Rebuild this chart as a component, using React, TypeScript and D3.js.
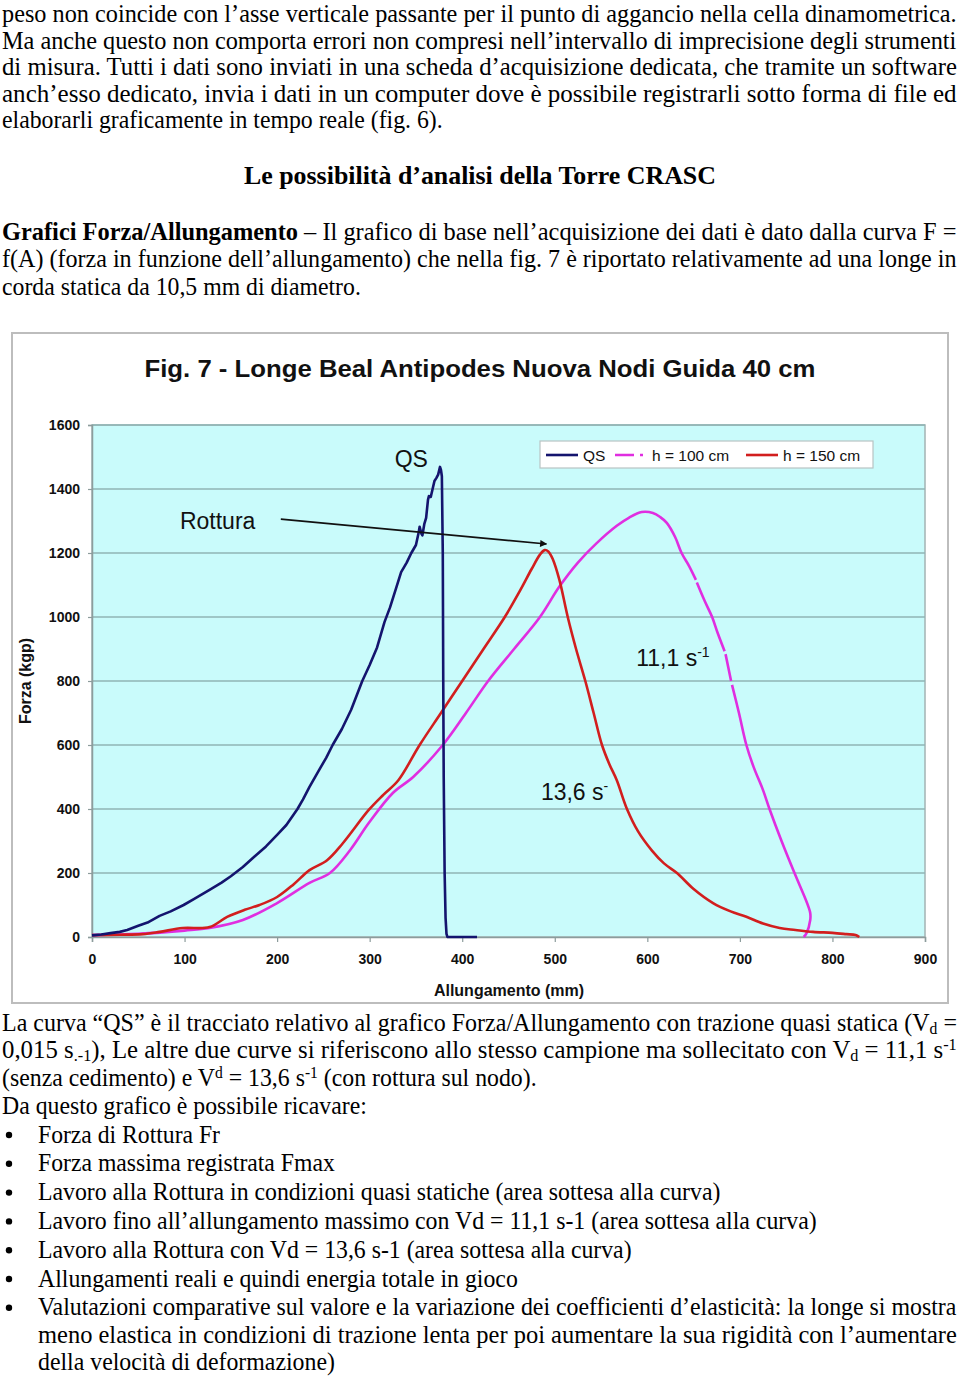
import React, { useEffect, useLayoutEffect, useRef, useState } from "react";
import { select, scaleLinear, axisBottom, axisLeft, line, curveCatmullRom, curveLinear } from "d3";

const SERIF = "'Liberation Serif', 'Times New Roman', serif";
const SANS = "'Liberation Sans', Arial, sans-serif";

// chart values
const xTicks = [0, 100, 200, 300, 400, 500, 600, 700, 800, 900];
const yTicks = [0, 200, 400, 600, 800, 1000, 1200, 1400, 1600];

const qsSeries: [number, number][] = [
  [0, 5], [10, 8], [20, 12], [30, 16], [38, 22], [50, 35], [60, 45], [73, 66], [85, 80], [99, 100],
  [110, 118], [127, 147], [140, 170], [150, 190], [163, 219], [175, 250], [188, 283], [200, 319],
  [210, 350], [222, 400], [228, 430], [235, 469], [245, 520], [253, 560], [260, 600], [270, 650],
  [280, 710], [292, 800], [300, 850], [308, 905], [316, 984], [322, 1030], [329, 1094], [334, 1140],
  [340, 1170], [345, 1200], [350, 1225], [353, 1265], [354, 1282], [356, 1260], [357, 1255],
  [359, 1290], [361, 1310], [363, 1366], [364, 1378], [366, 1375], [368, 1400], [370, 1425],
  [372, 1434], [374, 1445], [376, 1469], [377, 1460], [378, 1440], [379, 1200], [379.5, 800],
  [380, 500], [381, 200], [382, 60], [383, 10], [384, 0], [416, 0],
];

const h100Series: ([number, number] | null)[] = [
  [0, 6], [50, 10], [100, 20], [127, 28], [163, 53], [200, 106], [235, 169], [257, 200], [279, 272],
  [299, 356], [325, 450], [347, 500], [379, 600], [404, 700], [428, 800], [456, 900], [484, 1000],
  [505, 1095], [525, 1170], [545, 1230], [567, 1285], [580, 1310], [594, 1328], [606, 1325],
  [614, 1312], [621, 1294], [630, 1250], [637, 1200], [645, 1160], [652.5, 1116], null,
  [653.5, 1108], [662, 1050], [670, 1000], [676, 950], [683.5, 893], null, [684.5, 884],
  [690.5, 800], null, [691.5, 788], [699, 700], [707, 600], [715, 530], [725, 459], [732, 400],
  [745, 300], [759, 200], [770, 125], [774, 95], [776, 75], [776, 53], [772, 12], [769, 0],
];

const h150Series: [number, number][] = [
  [0, 6], [30, 7], [55, 9], [73, 16], [98, 28], [127, 31], [146, 63], [165, 85], [181, 100],
  [200, 125], [218, 165], [235, 209], [254, 240], [271, 293], [299, 397], [315, 445], [331, 490],
  [354, 600], [377, 700], [400, 800], [423, 900], [446, 1000], [462, 1080], [475, 1150],
  [484, 1195], [489, 1209], [493, 1205], [498, 1180], [505, 1116], [514, 1000], [523, 900],
  [533, 800], [542, 700], [551, 600], [559, 540], [567, 490], [578, 400], [590, 330], [605, 270],
  [618, 230], [632, 200], [650, 150], [671, 106], [690, 80], [707, 63], [725, 42], [743, 28],
  [760, 22], [779, 16], [800, 13], [815, 9], [825, 6], [829, 0],
];

const legendItems = ["QS", "h = 100 cm", "h = 150 cm"];

// page text
const introLines = [
  "peso non coincide con l’asse verticale passante per il punto di aggancio nella cella dinamometrica.",
  "Ma anche questo non comporta errori non compresi nell’intervallo di imprecisione degli strumenti",
  "di misura. Tutti i dati sono inviati in una scheda d’acquisizione dedicata, che tramite un software",
  "anch’esso dedicato, invia i dati in un computer dove è possibile registrarli sotto forma di file ed",
  "elaborarli graficamente in tempo reale (fig. 6).",
];
const introWidths = [955, 955, 955, 955, 441];

const bullets = [
  "Forza di Rottura Fr",
  "Forza massima registrata Fmax",
  "Lavoro alla Rottura in condizioni quasi statiche (area sottesa alla curva)",
  "Lavoro fino all’allungamento massimo con Vd = 11,1 s-1 (area sottesa alla curva)",
  "Lavoro alla Rottura con Vd = 13,6 s-1 (area sottesa alla curva)",
  "Allungamenti reali e quindi energia totale in gioco",
  "Valutazioni comparative sul valore e la variazione dei coefficienti d’elasticità: la longe si mostra",
];
const bulletWidths = [182, 297, 683, 779, 594, 480, 919];
const bulletTail = ["meno elastica in condizioni di trazione lenta per poi aumentare la sua rigidità con l’aumentare", "della velocità di deformazione)"];
const bulletTailWidths = [919, 297];

const QS_COLOR = "#14146e";
const H100_COLOR = "#e02ee0";
const H150_COLOR = "#d21e1e";
const BODY_SIZE = 24.5;

const Chart = () => {
  const ref = useRef<SVGGElement>(null);

  useEffect(() => {
    const g = select(ref.current);
    g.selectAll("*").remove();

    const x = scaleLinear().domain([0, 900]).range([92, 925]);
    const y = scaleLinear().domain([0, 1600]).range([937, 425]);

    // frame
    g.append("rect").attr("x", 12).attr("y", 333).attr("width", 936).attr("height", 670)
      .attr("fill", "#fff").attr("stroke", "#bdbdbd").attr("stroke-width", 2);

    g.append("rect").attr("x", x(0)).attr("y", y(1600)).attr("width", x(900) - x(0)).attr("height", y(0) - y(1600))
      .attr("fill", "#c9fbfb").attr("stroke", "#a3b3b3").attr("stroke-width", 1.5);

    g.selectAll(".grid").data(yTicks.filter((d) => d > 0)).join("line")
      .attr("class", "grid")
      .attr("x1", x(0)).attr("x2", x(900))
      .attr("y1", (d) => y(d)).attr("y2", (d) => y(d))
      .attr("stroke", "#8fb4b4").attr("stroke-width", 1.5);

    const yAxis = axisLeft(y).tickValues(yTicks).tickSize(4).tickPadding(8).tickFormat((d) => String(d));
    const ya = g.append("g").attr("transform", `translate(${x(0)},0)`).call(yAxis);
    const xAxis = axisBottom(x).tickValues(xTicks).tickSize(5).tickPadding(12).tickFormat((d) => String(d));
    const xa = g.append("g").attr("transform", `translate(0,${y(0)})`).call(xAxis);
    [ya, xa].forEach((a) => {
      a.select(".domain").attr("stroke", "#8c9c9c").attr("stroke-width", 1.5);
      a.selectAll(".tick line").attr("stroke", "#8c9c9c").attr("stroke-width", 1.2);
      a.selectAll(".tick text").attr("font-family", SANS).attr("font-size", 14).attr("font-weight", "bold").attr("fill", "#111");
    });

    // axis titles
    g.append("text").attr("x", 509).attr("y", 996).attr("text-anchor", "middle")
      .attr("font-family", SANS).attr("font-size", 16).attr("font-weight", "bold").attr("fill", "#111")
      .text("Allungamento (mm)");
    g.append("text").attr("transform", "translate(31,681) rotate(-90)").attr("text-anchor", "middle")
      .attr("font-family", SANS).attr("font-size", 16).attr("font-weight", "bold").attr("fill", "#111")
      .text("Forza (kgp)");

    // title
    g.append("text").attr("x", 480).attr("y", 377).attr("text-anchor", "middle")
      .attr("font-family", SANS).attr("font-size", 23).attr("font-weight", "bold").attr("fill", "#111")
      .attr("textLength", 671).attr("lengthAdjust", "spacingAndGlyphs")
      .text("Fig. 7 - Longe Beal Antipodes Nuova Nodi Guida 40 cm");

    // curves
    const smooth = line<[number, number] | null>()
      .defined((d) => d !== null)
      .x((d) => x(d![0])).y((d) => y(d![1]))
      .curve(curveCatmullRom.alpha(0.5));
    const straight = line<[number, number]>().x((d) => x(d[0])).y((d) => y(d[1])).curve(curveLinear);

    g.append("path").attr("d", smooth(h100Series)).attr("fill", "none")
      .attr("stroke", H100_COLOR).attr("stroke-width", 2.6).attr("stroke-linejoin", "round");
    g.append("path").attr("d", smooth(h150Series)).attr("fill", "none")
      .attr("stroke", H150_COLOR).attr("stroke-width", 2.6).attr("stroke-linejoin", "round");
    g.append("path").attr("d", straight(qsSeries)).attr("fill", "none")
      .attr("stroke", QS_COLOR).attr("stroke-width", 2.6).attr("stroke-linejoin", "round");

    // annotations
    const ann = (tx: number, ty: number, label: string, sup?: string) => {
      const t = g.append("text").attr("x", x(tx)).attr("y", y(ty))
        .attr("font-family", SANS).attr("font-size", 23).attr("fill", "#111").text(label);
      if (sup) {
        t.append("tspan").attr("dy", -9).attr("font-size", 14).text(sup);
      }
    };
    ann(327, 1469, "QS");
    ann(95, 1276, "Rottura");
    ann(588, 848, "11,1 s", "-1");
    ann(485, 428, "13,6 s", "-");

    g.append("defs").append("marker").attr("id", "arrowhead")
      .attr("viewBox", "0 0 10 10").attr("refX", 9).attr("refY", 5)
      .attr("markerWidth", 9).attr("markerHeight", 7).attr("markerUnits", "userSpaceOnUse")
      .attr("orient", "auto")
      .append("path").attr("d", "M0,0 L10,5 L0,10 z").attr("fill", "#111");
    g.append("line")
      .attr("x1", x(204)).attr("y1", y(1306)).attr("x2", x(491)).attr("y2", y(1228))
      .attr("stroke", "#111").attr("stroke-width", 1.6).attr("marker-end", "url(#arrowhead)");

    // legend
    const lg = g.append("g").attr("transform", "translate(540,441)");
    lg.append("rect").attr("width", 333).attr("height", 27).attr("fill", "#fff").attr("stroke", "#b8c4c4").attr("stroke-width", 1.2);
    const swatchX = [6, 75, 206];
    const labelX = [43, 112, 243];
    lg.append("line").attr("x1", swatchX[0]).attr("x2", swatchX[0] + 32).attr("y1", 14).attr("y2", 14)
      .attr("stroke", QS_COLOR).attr("stroke-width", 2.6);
    lg.append("line").attr("x1", swatchX[1]).attr("x2", swatchX[1] + 32).attr("y1", 14).attr("y2", 14)
      .attr("stroke", H100_COLOR).attr("stroke-width", 2.6).attr("stroke-dasharray", "19,6,3,10");
    lg.append("line").attr("x1", swatchX[2]).attr("x2", swatchX[2] + 32).attr("y1", 14).attr("y2", 14)
      .attr("stroke", H150_COLOR).attr("stroke-width", 2.6);
    lg.selectAll(".lt").data(legendItems).join("text").attr("class", "lt")
      .attr("x", (d, i) => labelX[i]).attr("y", 19.5)
      .attr("font-family", SANS).attr("font-size", 15.5).attr("fill", "#111")
      .text((d) => d);
  }, []);

  return <g ref={ref} />;
};

// text squeezed horizontally to the width it has on the page
const Line = ({ x, y, w, children, size = BODY_SIZE, bold = false }: any) => {
  const ref = useRef<SVGTextElement>(null);
  const [s, setS] = useState(1);
  useLayoutEffect(() => {
    const n = ref.current ? ref.current.getComputedTextLength() : 0;
    if (n > 0) setS(w / n);
  }, [w]);
  return (
    <g transform={`translate(${x},${y}) scale(${s},1)`}>
      <text ref={ref} x={0} y={0} fontFamily={SERIF} fontSize={size} fontWeight={bold ? "bold" : "normal"} fill="#000">
        {children}
      </text>
    </g>
  );
};

const App = () => {
  const sub = { fontSize: 16 };
  return (
    <svg width={960} height={1379} style={{ position: "absolute", left: 0, top: 0, display: "block", background: "#fff" }}>
      <rect width={960} height={1379} fill="#fff" />
      {introLines.map((t, i) => (
        <Line key={i} x={2} y={22 + i * 26.5} w={introWidths[i]}>{t}</Line>
      ))}
      <Line x={244} y={184} w={472} size={26} bold>Le possibilità d’analisi della Torre CRASC</Line>
      <Line x={2} y={239.5} w={955}>
        <tspan fontWeight="bold">Grafici Forza/Allungamento</tspan>
        <tspan> – Il grafico di base nell’acquisizione dei dati è dato dalla curva F =</tspan>
      </Line>
      <Line x={2} y={267} w={955}>f(A) (forza in funzione dell’allungamento) che nella fig. 7 è riportato relativamente ad una longe in</Line>
      <Line x={2} y={294.5} w={359}>corda statica da 10,5 mm di diametro.</Line>

      <Chart />

      <Line x={2} y={1030.5} w={955}>
        <tspan>La curva “QS” è il tracciato relativo al grafico Forza/Allungamento con trazione quasi statica (V</tspan>
        <tspan dy={3} style={sub}>d</tspan>
        <tspan dy={-3}> =</tspan>
      </Line>
      <Line x={2} y={1058} w={955}>
        <tspan>0,015 s</tspan>
        <tspan dy={3} style={sub}>.-1</tspan>
        <tspan dy={-3}>), Le altre due curve si riferiscono allo stesso campione ma sollecitato con V</tspan>
        <tspan dy={3} style={sub}>d</tspan>
        <tspan dy={-3}> = 11,1 s</tspan>
        <tspan dy={-8} style={sub}>-1</tspan>
      </Line>
      <Line x={2} y={1085.5} w={535}>
        <tspan>(senza cedimento) e V</tspan>
        <tspan dy={-8} style={sub}>d</tspan>
        <tspan dy={8}> = 13,6 s</tspan>
        <tspan dy={-8} style={sub}>-1</tspan>
        <tspan dy={8}> (con rottura sul nodo).</tspan>
      </Line>
      <Line x={2} y={1113.5} w={365}>Da questo grafico è possibile ricavare:</Line>

      {bullets.map((t, i) => (
        <g key={i}>
          <circle cx={9} cy={1142.5 + i * 28.8 - 7.5} r={3.2} fill="#000" />
          <Line x={38} y={1142.5 + i * 28.8} w={bulletWidths[i]}>{t}</Line>
        </g>
      ))}
      {bulletTail.map((t, i) => (
        <Line key={i} x={38} y={1142.5 + (bullets.length + i) * 28.8 - 1.5 * (i + 1)} w={bulletTailWidths[i]}>{t}</Line>
      ))}
    </svg>
  );
};

export default App;
